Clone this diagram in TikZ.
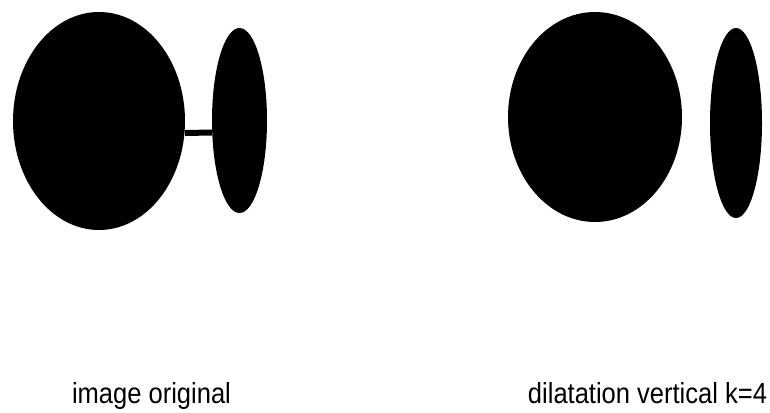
\documentclass[tikz,border=0pt]{standalone}
\usepackage{fontspec}
\setmainfont[FakeStretch=0.88]{Liberation Sans}
\usetikzlibrary{shapes.geometric}

\begin{document}
\begin{tikzpicture}[
    x=1pt,
    y=-1pt,
    blob/.style={ellipse,fill=black,draw=none,inner sep=0pt,outer sep=0pt},
    link/.style={line width=6pt,black},
    every node/.style={font=\fontsize{29}{34}\selectfont}
]

\useasboundingbox (0,0) rectangle (770,412);

%------------------------------------------------------------
% Original image
%------------------------------------------------------------

\node[blob,minimum width=172pt,minimum height=218pt]
(bigL) at (99,121) {};

\node[blob,minimum width=55pt,minimum height=185pt]
(smallL) at (239.5,120.5) {};

% bridge between the two blobs
\draw[link]
([yshift=-12pt]bigL.east)--([yshift=-12pt]smallL.west);

%------------------------------------------------------------
% After vertical dilatation
%------------------------------------------------------------

\node[blob,minimum width=174pt,minimum height=210pt]
(bigR) at (595,117) {};

\node[blob,minimum width=52pt,minimum height=190pt]
(smallR) at (736,123) {};

%------------------------------------------------------------
% Captions
%------------------------------------------------------------

\node[anchor=base]
(capL) at (151.5,403)
{image original};

\node[anchor=base]
(capR) at (647.5,403)
{dilatation vertical k=4};

\end{tikzpicture}
\end{document}
